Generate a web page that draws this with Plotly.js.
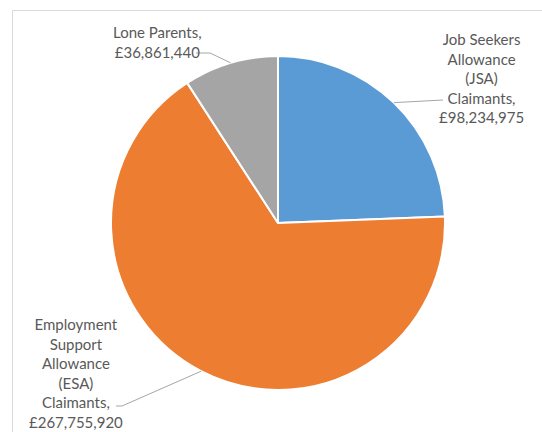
<!DOCTYPE html>
<html>
<head>
<meta charset="utf-8">
<script src="https://cdn.plot.ly/plotly-3.0.1.min.js"></script>
<style>html,body{margin:0;padding:0;background:#fff;}#chart{width:542px;height:432px;}</style>
</head>
<body>
<div id="chart"></div>
<script>
// Data
var categories = ["Job Seekers Allowance (JSA) Claimants", "Employment Support Allowance (ESA) Claimants", "Lone Parents"];
var labelText = ["Job Seekers<br>Allowance<br>(JSA)<br>Claimants,<br>£98,234,975",
                 "Employment<br>Support<br>Allowance<br>(ESA)<br>Claimants,<br>£267,755,920",
                 "Lone Parents,<br>£36,861,440"];
var values = [98234975, 267755920, 36861440];
var colors = ["#5B9BD5", "#ED7D31", "#A5A5A5"];

// Layout (pixels)
var W = 542, H = 432;
var cx = 278, cy = 223, R = 167;
function px(x){ return x / W; }
function py(y){ return 1 - y / H; }

// label centres and leader-line end points (layout)
var labelPos = [[481, 78], [76, 373], [157, 42]];
var leaderEnds = [
  [[443, 100]],
  [[122, 406], [116, 406]],
  [[210, 53], [196, 53]]
];

// compute slice mid-angle anchor points on the pie edge from data
var total = values.reduce(function(a,b){return a+b;}, 0);
var acc = 0;
var shapes = [];
var annotations = [];
for (var i = 0; i < values.length; i++) {
  var mid = (acc + values[i] / 2) / total * 2 * Math.PI;
  acc += values[i];
  var ex = cx + R * Math.sin(mid), ey = cy - R * Math.cos(mid);
  var path = "M" + px(ex) + "," + py(ey);
  leaderEnds[i].forEach(function(p){ path += " L" + px(p[0]) + "," + py(p[1]); });
  shapes.push({type: "path", xref: "paper", yref: "paper", path: path,
               line: {color: "#A6A6A6", width: 1}});
  annotations.push({xref: "paper", yref: "paper", x: px(labelPos[i][0]), y: py(labelPos[i][1]),
                    xanchor: "center", yanchor: "middle", align: "center", showarrow: false,
                    text: labelText[i], font: {family: "Lato, 'Open Sans', sans-serif", size: 15, color: "#595959"}});
}
// chart frame
shapes.push({type: "rect", xref: "paper", yref: "paper", x0: px(12.5), y0: py(10.5), x1: px(560), y1: py(450),
             line: {color: "#D9D9D9", width: 1}});

var trace = {
  type: "pie",
  labels: categories,
  values: values,
  sort: false,
  direction: "clockwise",
  rotation: 0,
  textinfo: "none",
  hoverinfo: "label+value",
  marker: {colors: colors, line: {color: "#FFFFFF", width: 2}},
  domain: {x: [px(cx - R), px(cx + R)], y: [py(cy + R), py(cy - R)]},
  showlegend: false
};

var layout = {
  width: W, height: H,
  margin: {l: 0, r: 0, t: 0, b: 0},
  paper_bgcolor: "#FFFFFF",
  showlegend: false,
  shapes: shapes,
  annotations: annotations
};

Plotly.newPlot("chart", [trace], layout, {displayModeBar: false, staticPlot: true});
</script>
</body>
</html>
